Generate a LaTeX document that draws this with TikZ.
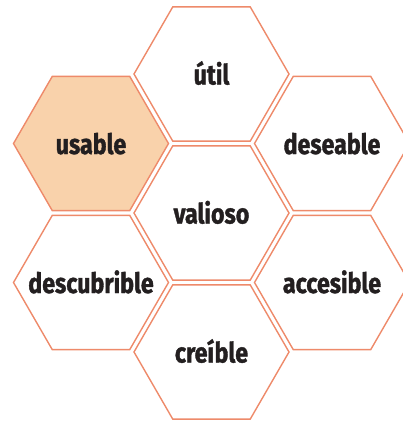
\documentclass[tikz,border=0pt]{standalone}
\usepackage{fontspec}
\newfontfamily\hexfont{Fira Sans}[FakeStretch=0.83,BoldFont={Fira Sans Bold},BoldFeatures={FakeBold=1.3}]
\usetikzlibrary{shapes.geometric}
\definecolor{hexline}{HTML}{EE8A6A}
\definecolor{hexfill}{HTML}{F9D2AB}
\definecolor{hextext}{HTML}{231F20}
\tikzset{
  hexcell/.style={regular polygon, regular polygon sides=6, minimum size=155pt,
    inner sep=0pt, draw=hexline, line width=1.4pt, fill=white},
  hexhi/.style={hexcell, fill=hexfill},
  hexlabel/.style={inner sep=0pt, anchor=base, yshift=-10.5pt,
    font=\hexfont\bfseries\fontsize{28}{28}\selectfont, text=hextext}
}
\begin{document}
\begin{tikzpicture}[x=1pt,y=1pt]
\useasboundingbox (0,0) rectangle (403,-421);
\clip (0,0) rectangle (403,-421);
\node[hexcell] (util) at (211.5,-74) {};
\node[hexhi] (usable) at (91,-143.5) {};
\node[hexcell] (deseable) at (332,-143.5) {};
\node[hexcell] (valioso) at (211.5,-213) {};
\node[hexcell] (descubrible) at (91,-282.5) {};
\node[hexcell] (accesible) at (332,-282.5) {};
\node[hexcell] (creible) at (211.5,-352) {};
\node[hexlabel] (tutil) at (util.center) {útil};
\node[hexlabel] (tusable) at (usable.center) {usable};
\node[hexlabel] (tdeseable) at (deseable.center) {deseable};
\node[hexlabel] (tvalioso) at (valioso.center) {valioso};
\node[hexlabel] (tdescubrible) at (descubrible.center) {descubrible};
\node[hexlabel] (taccesible) at (accesible.center) {accesible};
\node[hexlabel] (tcreible) at (creible.center) {creíble};
\end{tikzpicture}
\end{document}
